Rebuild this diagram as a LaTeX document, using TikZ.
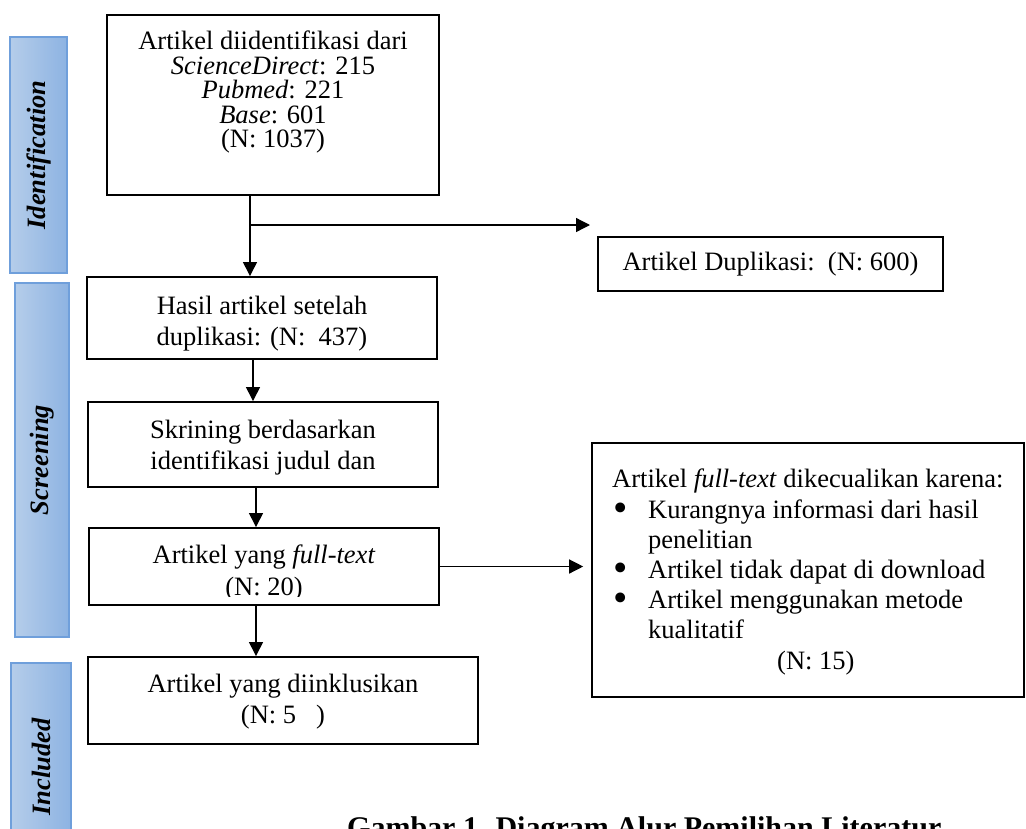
\documentclass[tikz,border=0pt]{standalone}
\usepackage{fontspec}
\setmainfont{Liberation Serif}
\usetikzlibrary{arrows.meta,calc}
\definecolor{barL}{HTML}{B5CDEA}
\definecolor{barR}{HTML}{8DB3E2}
\definecolor{barB}{HTML}{6F9FDB}
\newcommand\fsA{\fontsize{26.5}{24.5}\selectfont}
\newcommand\fsB{\fontsize{26.5}{30.5}\selectfont}
\newcommand\fsC{\fontsize{30}{32}\selectfont}
\newcommand\bul{\makebox[36pt][l]{\hspace*{1pt}\smash{\raisebox{-0.12em}{\scalebox{1.55}{\textbullet}}}}}
\begin{document}
\begin{tikzpicture}[x=1pt,y=-1pt,
  box/.style={draw=black, line width=1.9pt, rectangle, inner sep=0pt},
  lbl/.style={inner sep=0pt, align=center, font=\fsB},
  bar/.style={draw=barB, line width=1.2pt, left color=barL, right color=barR, inner sep=0pt},
  bartext/.style={rotate=90, font=\fsA\bfseries\itshape, inner sep=0pt},
  arr/.style={line width=1.3pt, -{Triangle[length=14pt,width=14pt]}}]
\useasboundingbox (0,0) rectangle (1026,828);
\clip (0,0) rectangle (1026,828);

% phase bars
\node[bar, minimum width=57pt, minimum height=236pt] (bar1) at (38.5,155) {};
\node[bartext] (bt1) at (bar1.center) {Identification};
\node[bar, minimum width=54pt, minimum height=354pt] (bar2) at (42,460) {};
\node[bartext] (bt2) at (bar2.center) {Screening};
\node[bar, minimum width=60pt, minimum height=208pt] (bar3) at (41,767) {};
\node[bartext] (bt3) at (bar3.center) {Included};

% boxes
\node[box, minimum width=332pt, minimum height=180pt] (b1) at (273,105) {};
\node[lbl, font=\fsA, anchor=north] (t1) at (273,31)
  {Artikel diidentifikasi dari\\ \textit{ScienceDirect}: 215\\ \textit{Pubmed}: 221\\ \textit{Base}: 601\\ (N: 1037)};

\node[box, minimum width=345pt, minimum height=54pt, line width=1.6pt] (b7) at (770.5,264)
  {\fsB Artikel Duplikasi:\ \ (N: 600)};

\node[box, minimum width=350pt, minimum height=82pt] (b2) at (262,318) {};
\node[lbl, anchor=north] (t2) at (262,296) {Hasil artikel setelah\\ duplikasi: (N:\ \ 437)};

\node[box, minimum width=350pt, minimum height=85pt] (b3) at (263,444.5) {};
\node[lbl, anchor=north] (t3) at (263,420) {Skrining berdasarkan\\ identifikasi judul dan};

\node[box, minimum width=350pt, minimum height=77pt] (b4) at (264,566.5) {};
\begin{scope}
  \clip (b4.north west) rectangle ($(b4.south east)+(0,-9)$);
  \node[lbl, anchor=north, font=\fontsize{26.5}{32}\selectfont] (t4) at (264,545) {Artikel yang \textit{full-text}\\ (N: 20)};
\end{scope}

\node[box, minimum width=390pt, minimum height=87pt] (b5) at (283,700.5) {};
\node[lbl, anchor=north] (t5) at (283,674) {Artikel yang diinklusikan\\ (N: 5\hspace{20pt})};

\node[box, minimum width=432pt, minimum height=254pt, line width=1.6pt] (b6) at (808,570) {};
\node[lbl, align=left, anchor=north west, font=\fontsize{26.5}{30.2}\selectfont] (t6) at (612,469)
  {Artikel \textit{full-text} dikecualikan karena:\\
   \bul Kurangnya informasi dari hasil\\
   \hspace*{36pt}penelitian\\
   \bul Artikel tidak dapat di download\\
   \bul Artikel menggunakan metode\\
   \hspace*{36pt}kualitatif\\
   \hspace*{165pt}(N: 15)};

% caption
\node[inner sep=0pt, anchor=base west, font=\fsC\bfseries] (cap) at (347,837)
  {Gambar 1. Diagram Alur Pemilihan Literatur};

% connectors
\coordinate (j1) at (250,225);
\coordinate (dupEnd) at (590,225);
\coordinate (colA) at (253,0);
\coordinate (colB) at (256,0);
\draw[line width=1.3pt] (j1 |- b1.south) -- (j1);
\draw[arr] (j1) -- (j1 |- b2.north);
\draw[arr] (j1) -- (dupEnd);
\draw[arr] (colA |- b2.south) -- (colA |- b3.north);
\draw[arr] (colB |- b3.south) -- (colB |- b4.north);
\draw[arr] (colB |- b4.south) -- (colB |- b5.north);
\draw[arr, shorten >=8pt] (b4.east) -- (b4.east -| b6.west);
\end{tikzpicture}
\end{document}
